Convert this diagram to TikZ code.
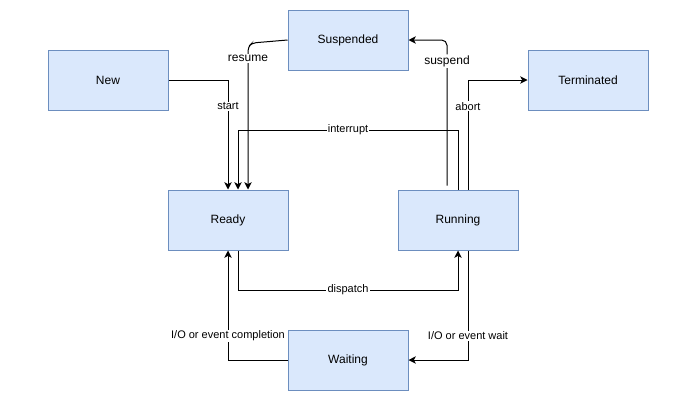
\documentclass[tikz,border=0pt]{standalone}
\usepackage{fontspec}
\setmainfont{Liberation Sans}
\usetikzlibrary{arrows.meta,calc}
\definecolor{fillc}{HTML}{DAE8FC}
\definecolor{strokec}{HTML}{6C8EBF}
\begin{document}
\begin{tikzpicture}[x=0.75pt,y=-0.75pt,
  state/.style={draw=strokec, fill=fillc, line width=0.75pt, minimum width=90pt, minimum height=45pt, inner sep=0pt, font=\fontsize{9}{11}\selectfont},
  edge/.style={draw=black, line width=0.75pt, -{Stealth[length=5.5pt,width=5.5pt,inset=1.5pt]}},
  lbl/.style={fill=white, inner sep=0.8pt, font=\fontsize{8.25}{10}\selectfont},
  biglbl/.style={lbl, font=\fontsize{9}{11}\selectfont}]
\fill[white] (0,0) rectangle (688,400);
\useasboundingbox (0,0) rectangle (688,400);
\node[state] (new)  at (108,80)  {New};
\node[state] (susp) at (348,40)  {Suspended};
\node[state] (term) at (588,80)  {Terminated};
\node[state] (ready) at (228,220) {Ready};
\node[state] (run)  at (458,220) {Running};
\node[state] (wait) at (348,360) {Waiting};
% start
\draw[edge] (new.east) -- (228,80) -- node[lbl,pos=0.24] {start} (ready.north);
% interrupt
\draw[edge] (run.north) -- (458,130) -- node[lbl] {interrupt} (238,130) -- ($(ready.north)+(10,0)$);
% resume
\draw[edge, rounded corners=3pt] (susp.west) -- (252,43) -- (248,47) -- node[biglbl,pos=0.08] {resume} ($(ready.north)+(20,0)$);
% suspend
\draw[edge, rounded corners=4pt] ($(run.north)+(-11,-4)$) -- node[biglbl,pos=0.855] {suspend} (447,40) -- (susp.east);
% abort
\draw[edge] ($(run.north)+(10,0)$) -- node[lbl,pos=0.76] {abort} (468,80) -- (term.west);
% dispatch
\draw[edge] ($(ready.south)+(10,0)$) -- (238,290) -- node[lbl] {dispatch} (458,290) -- (run.south);
% I/O wait
\draw[edge] ($(run.south)+(10,0)$) -- node[lbl,pos=0.78] {I/O or event wait} (468,360) -- (wait.east);
% I/O completion
\draw[edge] (wait.west) -- (228,360) -- node[lbl,pos=0.22] {I/O or event completion} (ready.south);
\end{tikzpicture}
\end{document}
